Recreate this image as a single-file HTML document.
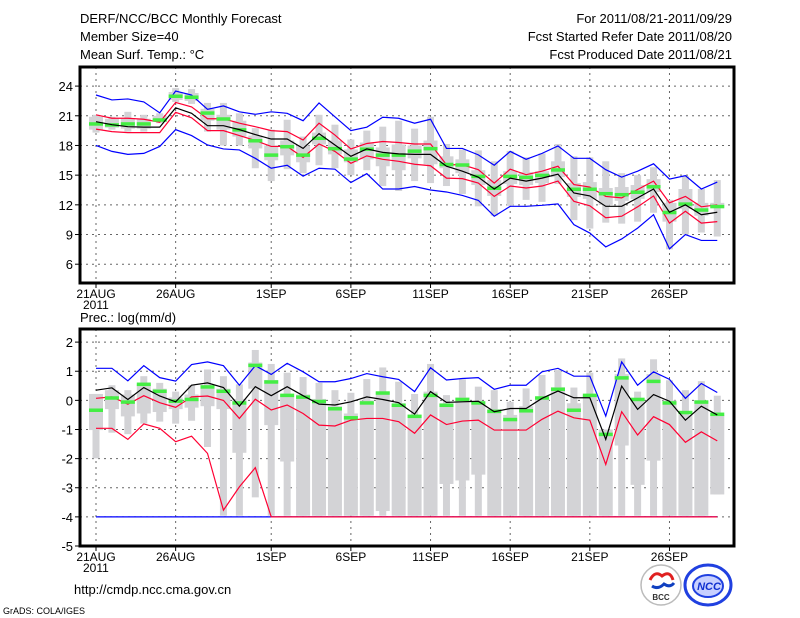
<!DOCTYPE html>
<html><head><meta charset="utf-8"><style>
html,body{margin:0;padding:0;background:#fff;}
svg{display:block;font-family:"Liberation Sans","DejaVu Sans",sans-serif;}
</style></head><body>
<svg id="chart" width="800" height="618" viewBox="0 0 800 618" xmlns="http://www.w3.org/2000/svg">
<rect width="800" height="618" fill="#fff"/>
<g font-size="13" fill="#000">
<text x="80" y="23">DERF/NCC/BCC Monthly Forecast</text>
<text x="80" y="41">Member Size=40</text>
<text x="80" y="59">Mean Surf. Temp.: °C</text>
<text x="732" y="23" text-anchor="end">For 2011/08/21-2011/09/29</text>
<text x="732" y="41" text-anchor="end">Fcst Started Refer Date 2011/08/20</text>
<text x="732" y="59" text-anchor="end">Fcst Produced Date 2011/08/21</text>
<text x="80" y="322">Prec.: log(mm/d)</text>
</g>
<g id="top"></g>
<g id="bot"></g>
<g>
<text x="74" y="594" font-size="13">http://cmdp.ncc.cma.gov.cn</text>
<text x="3" y="614" font-size="9">GrADS: COLA/IGES</text>
<g>
<circle cx="661" cy="585" r="20" fill="#fff" stroke="#bbb" stroke-width="1.5"/>
<path d="M650 580 q5 -10 12 -4 q8 -6 11 4" fill="none" stroke="#e02020" stroke-width="3"/>
<path d="M652 586 q6 4 12 -2 q6 4 10 -1" fill="none" stroke="#1040c0" stroke-width="3"/>
<text x="661" y="600" font-size="8" font-weight="bold" text-anchor="middle" fill="#333">BCC</text>
</g>
<g>
<ellipse cx="708" cy="585" rx="23" ry="20" fill="#fff" stroke="#2040e0" stroke-width="3"/>
<ellipse cx="708" cy="586" rx="15" ry="11" fill="#c8d0ff" stroke="#2040e0" stroke-width="2"/>
<text x="709" y="590" font-size="11" font-style="italic" font-weight="bold" text-anchor="middle" fill="#1030d0">NCC</text>
</g>
</g>
</svg>
<script>
// ---- temperature data ----
const days = Array.from({length:40},(_,i)=>i);
const xTickDays = [0,5,11,16,21,26,31,36];
const xTickLabels = ["21AUG","26AUG","1SEP","6SEP","11SEP","16SEP","21SEP","26SEP"];
const tTicks = [6,9,12,15,18,21,24];
const tMean = [20.4,20.1,19.9,19.85,19.85,21.8,21.25,20.0,20.0,19.6,19.1,18.65,18.65,17.7,19.2,18.05,16.9,17.65,17.3,17.15,17.1,17.1,15.9,15.4,14.8,13.6,14.7,14.4,14.7,15.1,13.2,12.9,11.85,11.85,12.7,13.6,11.25,12.0,11.0,11.25];
const tRedHi = [21.1,20.75,20.75,20.65,20.35,22.35,21.9,20.7,20.7,20.25,19.9,19.5,19.4,18.55,20.25,19.05,17.65,18.2,18.4,18.3,18.15,18.15,16.05,16.05,15.55,14.2,15.6,15.05,15.4,15.9,14.05,13.8,12.85,12.7,13.55,14.4,12.2,12.85,11.8,12.0];
const tRedLo = [19.65,19.4,19.3,19.3,19.3,21.35,20.8,19.5,19.5,19.0,18.5,17.9,17.9,16.8,18.15,17.4,16.2,16.95,16.6,16.4,16.1,15.95,14.7,14.65,14.2,12.85,13.9,13.7,13.9,14.4,12.35,11.9,10.7,10.85,11.8,12.9,10.15,11.35,10.15,10.3];
const tBlueHi = [23.1,22.6,22.7,22.4,21.3,23.5,23.1,21.65,22.0,21.4,21.15,21.4,21.25,20.5,22.3,20.9,19.5,19.85,20.85,20.75,20.25,20.65,17.7,17.7,17.05,16.0,17.4,16.6,17.2,17.95,16.7,16.7,15.55,14.8,15.4,16.15,14.6,14.95,13.6,14.3];
const tBlueLo = [18.0,17.4,17.1,17.2,17.9,19.6,19.0,18.05,17.65,17.55,16.7,15.7,16.0,14.9,15.7,15.6,14.25,15.15,13.6,13.6,13.85,13.5,13.3,12.95,12.45,10.85,11.85,11.85,11.95,12.1,10.0,9.15,7.75,8.55,9.65,11.0,7.55,9.0,8.4,8.4];
const tMedian = [20.2,20.1,20.2,20.2,20.6,23.0,22.9,21.3,20.7,19.6,18.5,17.05,17.9,17.05,18.75,17.7,16.65,17.65,17.05,17.05,17.45,17.7,16.1,16.05,14.9,13.7,14.9,14.8,15.0,15.55,13.6,13.6,13.15,13.05,13.3,13.85,11.25,12.1,11.5,11.85];
const tMax = [21.1,20.9,21.4,21.1,21.25,23.8,23.7,22.3,22.3,21.25,19.75,19.6,20.6,18.9,21.1,20.1,18.6,19.5,19.9,20.5,19.7,20.9,18.15,17.6,17.5,16.4,17.45,16.8,17.2,18.15,16.9,16.8,16.4,15.2,15.0,15.8,12.5,14.9,13.6,14.5];
const tMin = [19.3,19.6,19.4,19.4,20.25,22.4,22.2,19.4,18.0,18.0,15.7,14.4,15.6,15.2,16.0,15.7,15.0,15.5,13.9,13.4,14.4,14.2,13.9,13.1,11.85,10.9,11.9,12.5,12.3,14.1,10.45,9.6,10.2,10.1,10.3,11.2,7.5,9.0,9.2,8.8];
const tQ3 = [20.9,20.7,20.7,20.7,21.0,23.4,23.3,21.7,21.1,20.5,19.0,18.0,18.5,18.0,19.3,18.5,17.6,18.3,17.8,18.1,18.0,18.5,16.9,16.6,15.5,14.5,15.4,15.3,15.4,16.4,14.2,14.3,13.7,13.8,14.0,14.6,12.2,13.6,12.2,12.2];
const tQ1 = [19.6,19.8,19.7,19.7,20.4,22.6,22.5,20.5,19.6,18.9,17.7,16.5,17.0,16.3,18.1,17.1,16.3,16.6,15.9,15.5,16.7,16.1,15.7,15.2,14.0,12.9,14.1,14.0,14.2,14.8,12.8,12.6,12.0,12.4,12.6,13.3,10.3,11.6,10.9,11.7];
// ---- precipitation data ----
const pTicks = [-5,-4,-3,-2,-1,0,1,2];
const pMean = [0.35,0.43,0.03,0.44,0.15,-0.05,0.52,0.6,0.44,-0.2,0.47,0.16,0.47,0.16,-0.13,-0.16,-0.05,0.12,0.03,-0.08,-0.47,0.3,-0.07,-0.05,-0.03,-0.39,-0.28,-0.28,0.07,0.32,0.09,0.09,-1.34,0.49,-0.31,0.2,-0.03,-0.68,-0.2,-0.5];
const pBlueHi = [1.1,1.1,0.67,1.19,0.78,0.66,1.23,1.32,1.19,0.52,1.19,0.89,1.27,0.98,0.64,0.64,0.75,0.92,0.81,0.72,0.3,1.12,0.7,0.75,0.78,0.38,0.52,0.52,0.98,1.1,0.83,0.83,-0.54,1.32,0.52,0.98,0.72,0.07,0.58,0.27];
const pBlueLo = [-4,-4,-4,-4,-4,-4,-4,-4,-4,-4,-4,-4,-4,-4,-4,-4,-4,-4,-4,-4,-4,-4,-4,-4,-4,-4,-4,-4,-4,-4,-4,-4,-4,-4,-4,-4,-4,-4,-4,-4];
const pRedHi = [0.07,0.12,-0.13,0.16,-0.08,-0.24,0.12,0.15,0.0,-0.62,0.04,-0.33,-0.16,-0.45,-0.85,-0.88,-0.68,-0.62,-0.62,-0.73,-1.13,-0.5,-0.83,-0.71,-0.68,-1.02,-1.02,-1.02,-0.65,-0.37,-0.6,-0.68,-2.2,-0.39,-1.19,-0.56,-0.83,-1.44,-1.08,-1.39];
const pRedLo = [-0.96,-0.96,-1.34,-0.81,-0.96,-1.42,-1.23,-1.82,-3.77,-2.97,-2.31,-4,-4,-4,-4,-4,-4,-4,-4,-4,-4,-4,-4,-4,-4,-4,-4,-4,-4,-4,-4,-4,-4,-4,-4,-4,-4,-4,-4,-4];
const pMedian = [-0.33,0.09,-0.05,0.56,0.32,-0.02,0.04,0.47,0.32,-0.08,1.21,0.64,0.18,0.12,-0.03,-0.28,-0.59,-0.08,0.26,-0.16,-0.54,0.18,-0.16,0.04,-0.08,-0.37,-0.65,-0.35,0.09,0.39,-0.33,0.18,-1.16,0.78,0.04,0.66,-0.08,-0.41,-0.05,-0.47];
const pMax = [0.22,0.52,0.35,0.83,0.6,0.3,0.52,1.06,0.83,0.55,1.73,1.25,0.95,0.8,0.6,0.35,0.26,0.73,1.13,0.64,0.22,1.25,0.18,0.72,0.47,0.35,-0.05,0.41,0.87,1.04,0.44,0.95,-1.02,1.44,0.3,1.41,0.69,0.35,0.66,0.16];
const pMin = [-1.99,-1.11,-1.16,-0.8,-0.73,-0.8,-0.7,-1.6,-3.96,-3.96,-3.33,-3.96,-3.96,-3.96,-3.96,-3.96,-3.96,-3.96,-3.96,-3.96,-3.96,-3.96,-3.96,-3.96,-3.96,-3.96,-3.96,-3.96,-3.96,-3.96,-3.96,-3.96,-3.96,-3.96,-3.96,-3.96,-3.96,-3.96,-3.96,-3.23];
const pQ3 = [0.22,0.35,0.2,0.55,0.4,0.1,0.2,0.45,0.4,0.05,1.3,0.7,0.2,0.2,0.05,-0.2,-0.45,0.0,0.3,-0.1,-0.5,0.3,-0.1,0.1,-0.05,-0.3,-0.5,-0.2,0.1,0.45,-0.1,0.2,-1.0,0.9,0.0,0.9,0.0,-0.5,0.0,-0.5];
const pQ1 = [-1.02,-0.3,-0.55,-0.45,-0.4,-0.3,-0.25,-0.2,-0.3,-1.8,0.4,-0.85,-2.1,-3.96,-3.96,-3.96,-3.96,-3.96,-3.8,-3.96,-3.96,-3.96,-2.87,-2.75,-2.55,-3.96,-3.96,-3.96,-3.96,-3.96,-3.96,-3.96,-3.96,-1.55,-2.9,-2.07,-3.96,-3.96,-3.96,-3.23];

const NS="http://www.w3.org/2000/svg";
const X0=80, X1=734;
const xDay = d => 96 + d*15.93;
function mk(tag, attrs, parent){const e=document.createElementNS(NS,tag);for(const k in attrs)e.setAttribute(k,attrs[k]);parent.appendChild(e);return e;}

function panel(g, top, bottom, vTop, vBot, ticks, D){
  const y = v => top + (vTop - v)/(vTop - vBot)*(bottom - top);
  // gridlines
  ticks.forEach(t=>{
    const l=mk('line',{x1:X0,x2:X1,y1:y(t),y2:y(t),stroke:'#666','stroke-dasharray':'2,4','stroke-width':1},g);
    
    
    const tk=mk('line',{x1:X0-5,x2:X0,y1:y(t),y2:y(t),stroke:'#000','stroke-width':1},g);
    
    
    const tx=mk('text',{x:X0-7,y:y(t)+5,'text-anchor':'end','font-size':13},g);
    tx.textContent=t;
    
    
  });
  xTickDays.forEach((d,i)=>{
    const l=mk('line',{x1:xDay(d),x2:xDay(d),y1:top,y2:bottom,stroke:'#666','stroke-dasharray':'2,4','stroke-width':1},g);
    
    
    const tk=mk('line',{x1:xDay(d),x2:xDay(d),y1:bottom,y2:bottom+5,stroke:'#000'},g);
    
    
    const tx=mk('text',{x:xDay(d),y:bottom+15,'text-anchor':'middle','font-size':12},g);
    tx.textContent=xTickLabels[i];
    
    
  });
  const yr=mk('text',{x:83,y:bottom+26,'font-size':12},g);
  yr.textContent='2011';
  
  
  // boxes
  days.forEach(d=>{
    const w=mk('rect',{x:xDay(d)-3.5,width:7,y:y(D.max[d]),height:Math.max(1,y(D.min[d])-y(D.max[d])),fill:'#d3d3d6'},g);
    
    
    const b=mk('rect',{x:xDay(d)-7,width:14,y:y(D.q3[d]),height:Math.max(1,y(D.q1[d])-y(D.q3[d])),fill:'#d3d3d6'},g);
    
    
  });
  const line=(arr,col,name)=>{
    const p=mk('polyline',{points:days.map(d=>xDay(d)+','+y(arr[d])).join(' '),fill:'none',stroke:col,'stroke-width':1.2},g);
    
    
  };
  line(D.blo,'#0000ff','blue-lower-line');
  line(D.bhi,'#0000ff','blue-upper-line');
  line(D.rlo,'#ff0033','red-lower-line');
  line(D.rhi,'#ff0033','red-upper-line');
  days.forEach(d=>{
    const m=mk('rect',{x:xDay(d)-7,width:14,y:y(D.med[d])-1.5,height:3.5,fill:'#44ee44'},g);
    
    
  });
  line(D.mean,'#000000','ensemble-mean-line');
  const f=mk('rect',{x:X0,y:top,width:X1-X0,height:bottom-top,fill:'none',stroke:'#000','stroke-width':3},g);
  
  
}
panel(document.getElementById('top'),67,283,25.93,4.1,tTicks,
 {max:tMax,min:tMin,q3:tQ3,q1:tQ1,med:tMedian,mean:tMean,rhi:tRedHi,rlo:tRedLo,bhi:tBlueHi,blo:tBlueLo});
panel(document.getElementById('bot'),329,546,2.45,-5,pTicks,
 {max:pMax,min:pMin,q3:pQ3,q1:pQ1,med:pMedian,mean:pMean,rhi:pRedHi,rlo:pRedLo,bhi:pBlueHi,blo:pBlueLo});
</script>
</body></html>
